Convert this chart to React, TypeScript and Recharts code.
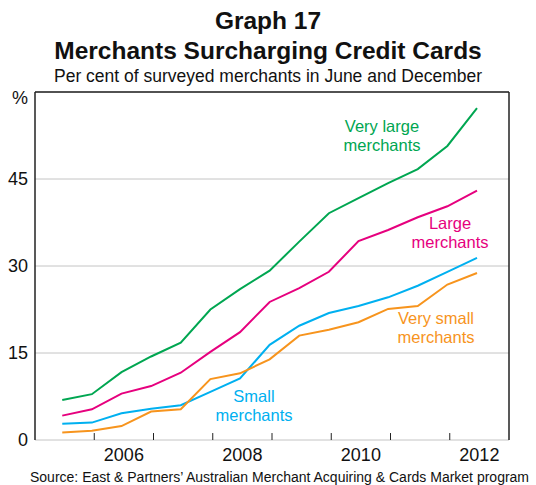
import { LineChart, Line, XAxis, YAxis, CartesianGrid, ReferenceLine } from 'recharts';

// survey periods: June and December
const periods = [
  'Jun-2005', 'Dec-2005', 'Jun-2006', 'Dec-2006', 'Jun-2007', 'Dec-2007', 'Jun-2008', 'Dec-2008',
  'Jun-2009', 'Dec-2009', 'Jun-2010', 'Dec-2010', 'Jun-2011', 'Dec-2011', 'Jun-2012',
];
const veryLarge = [6.9, 7.9, 11.7, 14.4, 16.8, 22.5, 26.0, 29.2, 34.2, 39.1, 41.7, 44.3, 46.7, 50.7, 57.2];
const large = [4.2, 5.3, 8.0, 9.3, 11.6, 15.2, 18.6, 23.8, 26.2, 29.0, 34.3, 36.2, 38.4, 40.3, 43.0];
const small = [2.8, 3.0, 4.6, 5.4, 6.0, 8.3, 10.6, 16.4, 19.7, 21.9, 23.1, 24.6, 26.6, 29.0, 31.4];
const verySmall = [1.3, 1.6, 2.4, 4.9, 5.3, 10.5, 11.5, 13.9, 18.0, 19.0, 20.3, 22.6, 23.1, 26.8, 28.8];

const yearTicks = [2006, 2007, 2008, 2009, 2010, 2011, 2012];
const yearLabels = [2006.5, 2008.5, 2010.5, 2012.5];
const yTicks = [0, 15, 30, 45, 60];

// position of each survey within the year (end of June / end of December)
const toX = (p: string) => {
  const [m, y] = p.split('-');
  return Number(y) + (m === 'Jun' ? 0.46 : 0.96);
};

const data = periods.map((p, i) => ({
  x: toX(p),
  veryLarge: veryLarge[i],
  large: large[i],
  small: small[i],
  verySmall: verySmall[i],
}));

const FONT = '"Liberation Sans", Arial, Helvetica, sans-serif';
const AXIS = '#222';

const YTick = ({ x, y, payload, textAnchor }: any) => (
  <text
    x={x}
    y={y}
    dy={payload.value === 60 ? 12 : 6}
    textAnchor={textAnchor}
    fontSize={18}
    fontFamily={FONT}
    fill="#111"
  >
    {payload.value === 60 ? '%' : payload.value}
  </text>
);

const annot = (color: string, left: number, top: number, lines: string[]) => (
  <div
    style={{
      position: 'absolute',
      left,
      top,
      transform: 'translateX(-50%)',
      color,
      fontFamily: FONT,
      fontSize: 16.5,
      lineHeight: '19px',
      textAlign: 'center',
      whiteSpace: 'nowrap',
    }}
  >
    {lines.map((l) => (
      <div key={l}>{l}</div>
    ))}
  </div>
);

export default function App() {
  return (
    <div style={{ position: 'absolute', left: 0, top: 0, width: 536, height: 485, background: '#fff', fontFamily: FONT }}>
      <div style={{ position: 'absolute', top: 6, width: 536, textAlign: 'center', fontWeight: 'bold', fontSize: 24.5, lineHeight: '30px', color: '#111' }}>
        Graph 17
      </div>
      <div style={{ position: 'absolute', top: 36, width: 536, textAlign: 'center', fontWeight: 'bold', fontSize: 24.5, lineHeight: '30px', color: '#111' }}>
        Merchants Surcharging Credit Cards
      </div>
      <div style={{ position: 'absolute', top: 66, width: 536, textAlign: 'center', fontSize: 17.5, lineHeight: '20px', color: '#111' }}>
        Per cent of surveyed merchants in June and December
      </div>

      <div style={{ position: 'absolute', left: 0, top: 0 }}>
        <LineChart width={536} height={485} data={data} margin={{ top: 92, right: 0, bottom: 0, left: 0 }}>
          <CartesianGrid vertical={false} stroke="#c4c4c4" strokeWidth={1} yAxisId="left" />
          <XAxis
            xAxisId="years"
            dataKey="x"
            type="number"
            domain={[2005, 2013]}
            ticks={yearTicks}
            height={0}
            tick={false}
            axisLine={{ stroke: AXIS, strokeWidth: 1.5 }}
            tickLine={false}
          />
          <XAxis
            xAxisId="labels"
            dataKey="x"
            type="number"
            domain={[2005, 2013]}
            ticks={yearLabels}
            tickFormatter={(v: number) => String(Math.floor(v))}
            height={45}
            tickSize={0}
            tickMargin={8}
            axisLine={false}
            tickLine={false}
            tick={{ fontSize: 18, fontFamily: FONT, fill: '#111' }}
          />
          <YAxis
            yAxisId="left"
            orientation="left"
            width={35}
            domain={[0, 60]}
            ticks={yTicks}
            tickSize={0}
            tickMargin={7}
            tickLine={false}
            axisLine={{ stroke: AXIS, strokeWidth: 1.5 }}
            tick={<YTick />}
          />
          <YAxis
            yAxisId="right"
            orientation="right"
            width={27}
            domain={[0, 60]}
            ticks={yTicks}
            tickSize={0}
            tickMargin={7}
            tickLine={false}
            axisLine={{ stroke: AXIS, strokeWidth: 1.5 }}
            tick={<YTick />}
          />
          <ReferenceLine yAxisId="left" xAxisId="years" y={60} stroke={AXIS} strokeWidth={1.5} />
          {yearTicks.map((yr) => (
            <ReferenceLine
              key={yr}
              xAxisId="years"
              yAxisId="left"
              segment={[{ x: yr, y: 0 }, { x: yr, y: 1.2 }]}
              stroke={AXIS}
              strokeWidth={1}
            />
          ))}
          <Line xAxisId="years" yAxisId="left" dataKey="veryLarge" stroke="#00a651" strokeWidth={2} dot={false} isAnimationActive={false} />
          <Line xAxisId="years" yAxisId="left" dataKey="large" stroke="#e6007e" strokeWidth={2} dot={false} isAnimationActive={false} />
          <Line xAxisId="years" yAxisId="left" dataKey="small" stroke="#00b0f0" strokeWidth={2} dot={false} isAnimationActive={false} />
          <Line xAxisId="years" yAxisId="left" dataKey="verySmall" stroke="#f7941d" strokeWidth={2} dot={false} isAnimationActive={false} />
        </LineChart>
      </div>

      {annot('#00a651', 382, 117, ['Very large', 'merchants'])}
      {annot('#e6007e', 450, 214, ['Large', 'merchants'])}
      {annot('#f7941d', 436, 309, ['Very small', 'merchants'])}
      {annot('#00b0f0', 254, 387, ['Small', 'merchants'])}

      <div style={{ position: 'absolute', top: 469, left: 30, fontSize: 14, lineHeight: '16px', color: '#111', whiteSpace: 'nowrap' }}>
        Source: East &amp; Partners’ Australian Merchant Acquiring &amp; Cards Market program
      </div>
    </div>
  );
}
